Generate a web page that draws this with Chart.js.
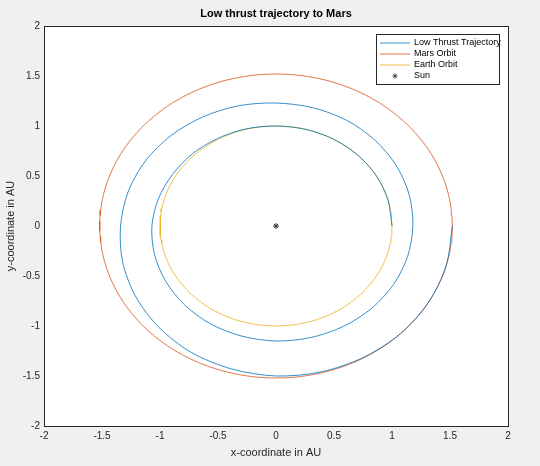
<!DOCTYPE html>
<html><head>
<script src="https://cdn.jsdelivr.net/npm/chart.js@4"></script>
<style>body{margin:0;background:#f0f0f0}#wrap{width:540px;height:466px}</style>
</head><body><div id="wrap"><canvas id="c"></canvas></div>
<script>
// spiral radius (AU) read every 15 degrees, starting at Earth
const spiralAngles = [0,15,30,45,60,75,90,105,120,135,150,165,180,195,210,225,240,255,270,285,300,315,330,345,360,375,390,405,420,435,450,465,480,495,510,525,540,555,570,585,600,615,630,645,660,675,690,705,720];
const spiralRadii = [1.00,1.00,1.00,1.00,1.00,1.00,1.00,1.005,1.01,1.02,1.03,1.05,1.07,1.085,1.10,1.115,1.13,1.14,1.15,1.155,1.16,1.165,1.17,1.175,1.18,1.19,1.20,1.21,1.22,1.225,1.23,1.245,1.26,1.28,1.30,1.32,1.34,1.37,1.40,1.43,1.46,1.48,1.50,1.51,1.515,1.52,1.52,1.52,1.52];
const marsRadius = 1.52;
const earthRadius = 1.0;
const sun = [{x: 0, y: 0}];
const ticks = [-2,-1.5,-1,-0.5,0,0.5,1,1.5,2];

function polar(angles, radii) {
  return angles.map((a, i) => ({x: radii[i]*Math.cos(a*Math.PI/180), y: radii[i]*Math.sin(a*Math.PI/180)}));
}
function circle(r) {
  const pts = [];
  for (let a = 0; a <= 360; a += 2) pts.push({x: r*Math.cos(a*Math.PI/180), y: r*Math.sin(a*Math.PI/180)});
  return pts;
}

const frame = {
  id: 'frame',
  beforeDraw(ch) {
    const c = ch.ctx, a = ch.chartArea;
    c.save(); c.fillStyle = '#fff'; c.fillRect(a.left, a.top, a.right-a.left, a.bottom-a.top); c.restore();
  },
  afterDraw(ch) {
    const c = ch.ctx, a = ch.chartArea;
    c.save();
    c.strokeStyle = '#262626'; c.lineWidth = 1;
    c.strokeRect(a.left+0.5, a.top+0.5, a.right-a.left, a.bottom-a.top);
    c.fillStyle = '#000'; c.font = 'bold 11px Arial, "Liberation Sans"'; c.textAlign = 'center';
    c.fillText('Low thrust trajectory to Mars', (a.left+a.right)/2, 17);
    // legend
    const lx = 376, ly = 34, lw = 123, lh = 50;
    c.fillStyle = '#fff'; c.fillRect(lx, ly, lw, lh);
    c.strokeStyle = '#262626'; c.strokeRect(lx+0.5, ly+0.5, lw, lh);
    c.font = '9px Arial, "Liberation Sans"'; c.textAlign = 'left'; c.textBaseline = 'middle';
    ch.data.datasets.forEach((d, i) => {
      const y = ly + 9 + i*11;
      c.fillStyle = '#000'; c.fillText(d.label, lx + 38, y);
      if (i < 3) {
        c.strokeStyle = d.borderColor; c.lineWidth = 0.8;
        c.beginPath(); c.moveTo(lx+4, y); c.lineTo(lx+34, y); c.stroke();
      } else {
        c.strokeStyle = '#333'; c.lineWidth = 0.8;
        c.beginPath();
        for (let k = 0; k < 4; k++) { const t = k*Math.PI/4; c.moveTo(lx+19-2.5*Math.cos(t), y-2.5*Math.sin(t)); c.lineTo(lx+19+2.5*Math.cos(t), y+2.5*Math.sin(t)); }
        c.stroke();
      }
    });
    c.restore();
  }
};

const tickCfg = {
  min: -2, max: 2,
  afterBuildTicks: s => { s.ticks = ticks.map(v => ({value: v})); },
  ticks: {color: '#262626', font: {size: 10, family: 'Arial, "Liberation Sans"'}, maxRotation: 0, padding: 4, callback: v => String(v)},
  grid: {display: false, drawTicks: false},
  border: {color: '#262626'}
};
const titleFont = {size: 11, family: 'Arial, "Liberation Sans"'};

new Chart(document.getElementById('c'), {
  type: 'scatter',
  data: {datasets: [
    {label: 'Low Thrust Trajectory', data: polar(spiralAngles, spiralRadii), showLine: true, tension: 0.3, borderColor: '#0072BD', borderWidth: 0.8, pointRadius: 0},
    {label: 'Mars Orbit', data: circle(marsRadius), showLine: true, borderColor: '#D95319', borderWidth: 0.8, pointRadius: 0},
    {label: 'Earth Orbit', data: circle(earthRadius), showLine: true, borderColor: '#EDB120', borderWidth: 0.8, pointRadius: 0},
    {label: 'Sun', data: sun, pointStyle: 'star', pointRadius: 3, borderColor: '#333', borderWidth: 1, backgroundColor: '#333'}
  ]},
  options: {
    responsive: true, maintainAspectRatio: false, animation: false,
    layout: {padding: {top: 26, right: 32, left: 4, bottom: 6}},
    plugins: {legend: {display: false}, tooltip: {enabled: false}},
    scales: {
      x: {...tickCfg, title: {display: true, text: 'x-coordinate in AU', color: '#262626', font: titleFont, padding: 0},
          afterFit: s => { s.height = 34; }},
      y: {...tickCfg, title: {display: true, text: 'y-coordinate in AU', color: '#262626', font: titleFont, padding: 0},
          afterFit: s => { s.width = 40; }}
    }
  },
  plugins: [frame]
});
</script></body></html>
